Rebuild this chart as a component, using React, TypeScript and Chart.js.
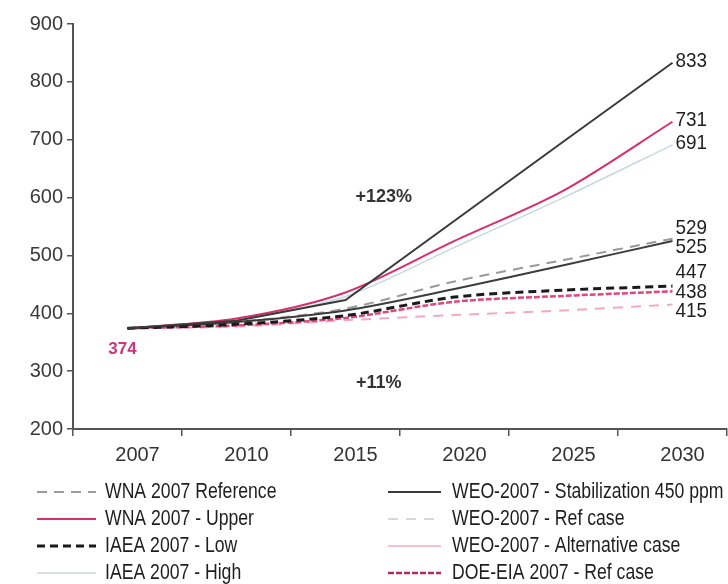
import React, { useEffect, useRef } from 'react';
import { Chart, registerables } from 'chart.js';

Chart.register(...registerables);

// ---------- data ----------
const years = ['2007', '2010', '2015', '2020', '2025', '2030'];

const wnaRef = [374, 385, 408, 455, 492, 529];
const wnaUpper = [374, 391, 436, 525, 612, 731];
const iaeaLow = [374, 381, 396, 428, 440, 447];
const iaeaHigh = [374, 389, 429, 514, 600, 691];
const weoStab = [374, 387, 423, 560, 697, 833];
const weoRef = [374, 377, 388, 397, 405, 415];
const weoAlt = [374, 385, 405, 442, 483, 525];
const doeRef = [374, 379, 392, 420, 430, 438];

const seriesNames = [
  'WNA 2007 Reference',
  'WNA 2007 - Upper',
  'IAEA 2007 - Low',
  'IAEA 2007 - High',
  'WEO-2007 - Stabilization 450 ppm',
  'WEO-2007 - Ref case',
  'WEO-2007 - Alternative case',
  'DOE-EIA 2007 - Ref case',
];

const startLabel = '374';
const growthHigh = '+123%';
const growthLow = '+11%';
const yTicks = [200, 300, 400, 500, 600, 700, 800, 900];

// ---------- styles ----------
const SANS = "'Liberation Sans', Arial, sans-serif";

type S = {
  name: string;
  data: number[];
  color: string;
  legendColor: string;
  width: number;
  dash: number[];
  tension: number;
  col: number;
  row: number;
};

const series: S[] = [
  { name: seriesNames[4], data: weoStab, color: '#3a3a3a', legendColor: '#3a3a3a', width: 2, dash: [], tension: 0, col: 1, row: 0 },
  { name: seriesNames[2], data: iaeaLow, color: '#1a1a1a', legendColor: '#1a1a1a', width: 3, dash: [8, 5], tension: 0.3, col: 0, row: 2 },
  { name: seriesNames[6], data: weoAlt, color: '#3c3c3c', legendColor: '#f4c2d2', width: 2, dash: [], tension: 0.3, col: 1, row: 2 },
  { name: seriesNames[1], data: wnaUpper, color: '#d62f6c', legendColor: '#d62f6c', width: 2, dash: [], tension: 0.3, col: 0, row: 1 },
  { name: seriesNames[7], data: doeRef, color: '#e0467f', legendColor: '#b02a62', width: 2.5, dash: [6, 2], tension: 0.3, col: 1, row: 3 },
  { name: seriesNames[0], data: wnaRef, color: '#9a9a9a', legendColor: '#9a9a9a', width: 2, dash: [10, 7], tension: 0.3, col: 0, row: 0 },
  { name: seriesNames[3], data: iaeaHigh, color: '#c6dadb', legendColor: '#cfd6d6', width: 1.5, dash: [], tension: 0.3, col: 0, row: 3 },
  { name: seriesNames[5], data: weoRef, color: '#f3a9c2', legendColor: '#d8d8d8', width: 2, dash: [10, 8], tension: 0.3, col: 1, row: 1 },
];

function spreadLabels(items: { text: string; y: number }[], gap: number) {
  const sorted = items.slice().sort((a, b) => a.y - b.y);
  let groups = sorted.map((m) => ({ members: [m], center: m.y }));
  let changed = true;
  while (changed) {
    changed = false;
    for (let i = 0; i < groups.length - 1; i++) {
      const a = groups[i];
      const b = groups[i + 1];
      const aBottom = a.center + ((a.members.length - 1) * gap) / 2;
      const bTop = b.center - ((b.members.length - 1) * gap) / 2;
      if (bTop - aBottom < gap) {
        const members = a.members.concat(b.members);
        const center = members.reduce((s, m) => s + m.y, 0) / members.length;
        groups.splice(i, 2, { members, center });
        changed = true;
        break;
      }
    }
  }
  const out: { text: string; y: number }[] = [];
  groups.forEach((g) => {
    const top = g.center - ((g.members.length - 1) * gap) / 2;
    g.members.forEach((m, k) => out.push({ text: m.text, y: top + k * gap }));
  });
  return out;
}

function narrowText(ctx: CanvasRenderingContext2D, text: string, x: number, y: number, size: number, factor: number) {
  ctx.save();
  ctx.translate(x, y);
  ctx.scale(factor, 1);
  ctx.font = `${size}px ${SANS}`;
  ctx.textAlign = 'left';
  ctx.textBaseline = 'middle';
  ctx.fillText(text, 0, 0);
  ctx.restore();
}

const annotationPlugin = {
  id: 'annots',
  afterDatasetsDraw(chart: any) {
    const ctx: CanvasRenderingContext2D = chart.ctx;
    const xs = chart.scales.x;
    const ys = chart.scales.y;
    const last = years.length - 1;
    const xEnd = xs.getPixelForValue(last);
    const step = xs.getPixelForValue(1) - xs.getPixelForValue(0);
    ctx.save();
    // end labels
    const items = series.map((s) => ({ text: String(s.data[last]), y: ys.getPixelForValue(s.data[last]) }));
    const placed = spreadLabels(items, 19.5);
    ctx.fillStyle = '#1e1e1e';
    placed.forEach((p) => narrowText(ctx, p.text, xEnd + 3, p.y - 2, 21, 0.9));

    // start label
    ctx.font = `bold 17px ${SANS}`;
    ctx.fillStyle = '#cf3479';
    ctx.textAlign = 'center';
    ctx.textBaseline = 'middle';
    ctx.fillText(startLabel, xs.getPixelForValue(0) - 5, ys.getPixelForValue(337));

    // growth labels
    ctx.font = `bold 18px ${SANS}`;
    ctx.fillStyle = '#333';
    const gx = xs.getPixelForValue(2) + step * 0.35;
    ctx.fillText(growthHigh, gx, ys.getPixelForValue(601));
    ctx.fillText(growthLow, gx - 5, ys.getPixelForValue(279));

    // legend
    const rowY = [492, 519, 546, 573];
    const colSw = [
      [37, 96],
      [388, 441],
    ];
    const colText = [105, 452];
    series.forEach((s) => {
      const y = rowY[s.row];
      const [x0, x1] = colSw[s.col];
      ctx.beginPath();
      ctx.setLineDash(s.dash);
      ctx.lineWidth = s.width;
      ctx.strokeStyle = s.legendColor;
      ctx.moveTo(x0, y);
      ctx.lineTo(x1, y);
      ctx.stroke();
      ctx.setLineDash([]);
      ctx.fillStyle = '#1e1e1e';
      narrowText(ctx, s.name, colText[s.col], y, 21.5, 0.82);
    });
    ctx.restore();
  },
};

export default function App() {
  const ref = useRef<HTMLCanvasElement | null>(null);
  useEffect(() => {
    document.body.style.margin = '0';
    if (!ref.current) return;
    const chart = new Chart(ref.current, {
      type: 'line',
      data: {
        labels: years,
        datasets: series.map((s) => ({
          label: s.name,
          data: s.data,
          borderColor: s.color,
          backgroundColor: s.color,
          borderWidth: s.width,
          borderDash: s.dash,
          pointRadius: 0,
          tension: s.tension,
          fill: false,
        })),
      },
      options: {
        responsive: false,
        animation: false,
        layout: { padding: { top: 24, right: 1, left: 0, bottom: 0 } },
        plugins: { legend: { display: false }, tooltip: { enabled: false } },
        scales: {
          x: {
            type: 'category',
            offset: true,
            grid: { display: true, drawOnChartArea: false, offset: true, tickLength: 7, color: '#555', lineWidth: 1.5 },
            border: { display: true, color: '#555', width: 2 },
            ticks: { color: '#333', font: { size: 20, family: SANS }, padding: 7, labelOffset: 10, maxRotation: 0 },
            afterFit: (scale: any) => {
              scale.height = 155;
            },
          },
          y: {
            min: 200,
            max: 900,
            afterBuildTicks: (scale: any) => {
              scale.ticks = yTicks.map((v) => ({ value: v }));
            },
            grid: { display: true, drawOnChartArea: false, tickLength: 6, color: '#555', lineWidth: 1.5 },
            border: { display: true, color: '#555', width: 2 },
            ticks: { color: '#3a3a3a', font: { size: 20, family: SANS }, padding: 4 },
            afterFit: (scale: any) => {
              scale.width = 73;
            },
          },
        },
      },
      plugins: [annotationPlugin],
    });
    return () => chart.destroy();
  }, []);
  return (
    <div style={{ width: 728, height: 584, background: '#fff' }}>
      <canvas ref={ref} width={728} height={584} style={{ display: 'block' }} />
    </div>
  );
}
